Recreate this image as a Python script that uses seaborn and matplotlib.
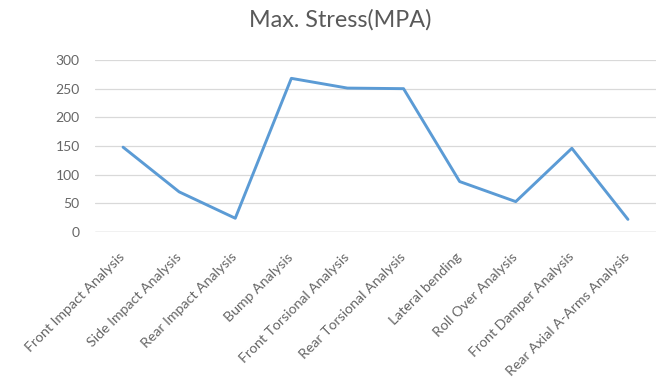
import pandas as pd
import matplotlib.pyplot as plt
import matplotlib.transforms as mtransforms
import seaborn as sns

# Данные: максимальное напряжение по видам анализа
analyses = [
    "Front Impact Analysis",
    "Side Impact Analysis",
    "Rear Impact Analysis",
    "Bump Analysis",
    "Front Torsional Analysis",
    "Rear Torsional Analysis",
    "Lateral bending",
    "Roll Over Analysis",
    "Front Damper Analysis",
    "Rear Axial A-Arms Analysis",
]
max_stress = [148, 70, 24, 268, 251, 250, 88, 53, 146, 22]
y_ticks = [0, 50, 100, 150, 200, 250, 300]

df = pd.DataFrame({"Analysis": analyses, "Stress": max_stress})

sns.set_style("white")
plt.rcParams["font.family"] = ["Lato", "DejaVu Sans"]

fig = plt.figure(figsize=(6.59, 3.85), dpi=100)
ax = fig.add_axes([95 / 659, (385 - 232) / 385, (656 - 95) / 659, 172 / 385])

sns.lineplot(data=df, x="Analysis", y="Stress", sort=False,
             color="#5b9bd5", linewidth=2.1, ax=ax)

ax.set_xlim(-0.5, len(analyses) - 0.5)
ax.set_ylim(0, 300)
ax.set_yticks(y_ticks)
ax.set_yticklabels([str(v) for v in y_ticks], fontsize=10, color="#666666")
ax.grid(axis="y", color="#d9d9d9", linewidth=0.9)
ax.set_axisbelow(True)
for side in ["top", "right", "left", "bottom"]:
    ax.spines[side].set_visible(False)
ax.axhline(0, color="#d0d0d0", linewidth=1.0, zorder=0)
ax.tick_params(axis="y", length=0, pad=11)
ax.tick_params(axis="x", length=0, pad=0)
ax.set_xlabel("")
ax.set_ylabel("")

ax.set_xticks(range(len(analyses)))
ax.set_xticklabels(analyses, rotation=45, ha="right", va="center",
                   rotation_mode="anchor", fontsize=10.2, color="#666666")
offset = mtransforms.ScaledTranslation(0, -23 / 100, fig.dpi_scale_trans)
for lbl in ax.get_xticklabels():
    lbl.set_transform(lbl.get_transform() + offset)

fig.text(340 / 659, 1 - 20 / 385, "Max. Stress(MPA)", ha="center", va="center",
         fontsize=16.8, color="#595959")

fig.savefig("out.png", dpi=100)
